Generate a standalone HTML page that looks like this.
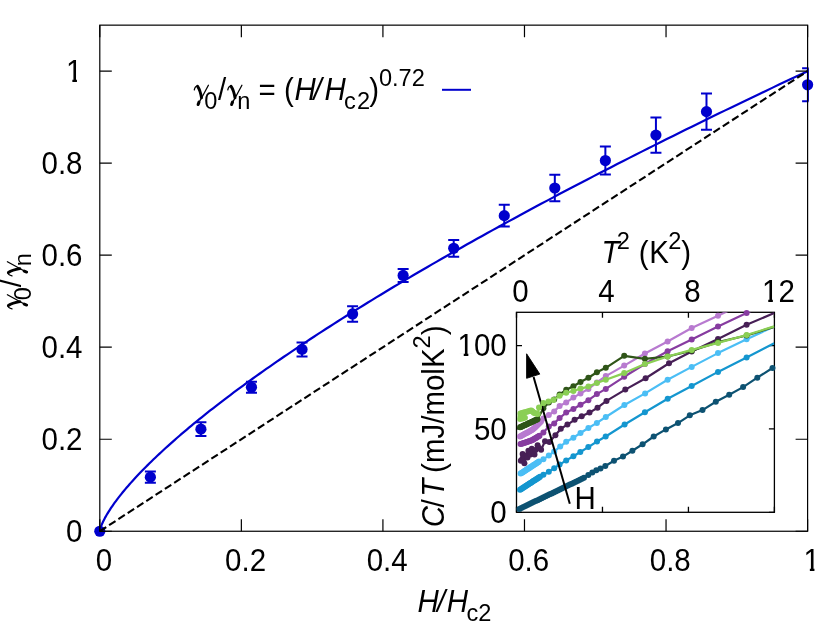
<!DOCTYPE html><html><head><meta charset="utf-8"><style>html,body{margin:0;padding:0;background:#fff}svg{display:block;will-change:transform}text{font-family:"Liberation Sans",sans-serif;fill:#000}.it{font-style:italic}.sy{font-family:"Liberation Serif",serif;font-style:italic}</style></head><body>
<svg width="830" height="625" viewBox="0 0 830 625">
<rect width="830" height="625" fill="#fff"/>
<text transform="translate(82.50,542.05) scale(1,1.045)" font-size="29.5" text-anchor="end">0</text>
<text transform="translate(104.00,571.00) scale(1,1.045)" font-size="29.5" text-anchor="middle">0</text>
<text transform="translate(82.50,450.03) scale(1,1.045)" font-size="29.5" text-anchor="end">0.2</text>
<text transform="translate(245.56,571.00) scale(1,1.045)" font-size="29.5" text-anchor="middle">0.2</text>
<text transform="translate(82.50,358.01) scale(1,1.045)" font-size="29.5" text-anchor="end">0.4</text>
<text transform="translate(387.12,571.00) scale(1,1.045)" font-size="29.5" text-anchor="middle">0.4</text>
<text transform="translate(82.50,266.00) scale(1,1.045)" font-size="29.5" text-anchor="end">0.6</text>
<text transform="translate(528.68,571.00) scale(1,1.045)" font-size="29.5" text-anchor="middle">0.6</text>
<text transform="translate(82.50,173.98) scale(1,1.045)" font-size="29.5" text-anchor="end">0.8</text>
<text transform="translate(670.24,571.00) scale(1,1.045)" font-size="29.5" text-anchor="middle">0.8</text>
<text transform="translate(82.50,81.96) scale(1,1.045)" font-size="29.5" text-anchor="end">1</text>
<rect x="66.70" y="78.66" width="5.65" height="4.2" fill="#fff"/><rect x="76.95" y="78.66" width="5.2" height="4.2" fill="#fff"/>
<text transform="translate(811.80,571.00) scale(1,1.045)" font-size="29.5" text-anchor="middle">1</text>
<rect x="804.20" y="567.70" width="5.65" height="4.2" fill="#fff"/><rect x="814.45" y="567.70" width="5.2" height="4.2" fill="#fff"/>
<path d="M99.80 531.25L99.82 531.03L99.87 530.64L99.96 530.16L100.08 529.60L100.24 528.98L100.44 528.30L100.67 527.57L100.93 526.79L101.23 525.96L101.57 525.09L101.94 524.19L102.35 523.24L102.79 522.27L103.27 521.25L103.78 520.21L104.33 519.14L104.91 518.03L105.53 516.90L106.19 515.73L106.88 514.55L107.60 513.33L108.36 512.09L109.16 510.82L109.99 509.53L110.86 508.21L111.76 506.88L112.70 505.51L113.67 504.13L114.68 502.73L115.73 501.30L116.80 499.85L117.92 498.38L119.07 496.89L120.26 495.38L121.48 493.85L122.73 492.31L124.02 490.74L125.35 489.15L126.71 487.55L128.11 485.93L129.55 484.29L131.01 482.63L132.52 480.95L134.06 479.26L135.63 477.55L137.24 475.82L138.89 474.08L140.57 472.32L142.29 470.54L144.04 468.75L145.82 466.94L147.65 465.12L149.51 463.28L151.40 461.43L153.33 459.56L155.29 457.67L157.29 455.77L159.33 453.86L161.40 451.93L163.50 449.99L165.64 448.03L167.82 446.06L170.03 444.07L172.28 442.07L174.56 440.06L176.88 438.03L179.23 435.99L181.62 433.94L184.05 431.87L186.51 429.79L189.00 427.69L191.53 425.59L194.10 423.47L196.70 421.34L199.33 419.19L202.01 417.03L204.71 414.86L207.46 412.68L210.23 410.48L213.05 408.28L215.90 406.06L218.78 403.83L221.70 401.58L224.66 399.33L227.65 397.06L230.67 394.78L233.73 392.49L236.83 390.19L239.96 387.87L243.13 385.55L246.33 383.21L249.57 380.86L252.84 378.50L256.15 376.13L259.50 373.75L262.88 371.36L266.29 368.95L269.74 366.54L273.23 364.11L276.75 361.68L280.31 359.23L283.90 356.77L287.53 354.30L291.19 351.82L294.89 349.33L298.62 346.83L302.39 344.32L306.19 341.80L310.03 339.27L313.91 336.73L317.82 334.18L321.77 331.62L325.75 329.04L329.76 326.46L333.82 323.87L337.90 321.27L342.03 318.66L346.19 316.04L350.38 313.40L354.61 310.76L358.87 308.11L363.17 305.45L367.51 302.78L371.88 300.10L376.28 297.41L380.73 294.72L385.20 292.01L389.71 289.29L394.26 286.56L398.85 283.83L403.46 281.08L408.12 278.33L412.81 275.56L417.53 272.79L422.29 270.01L427.09 267.22L431.92 264.42L436.78 261.61L441.69 258.79L446.62 255.96L451.59 253.13L456.60 250.28L461.65 247.43L466.72 244.57L471.84 241.70L476.99 238.82L482.17 235.93L487.39 233.03L492.65 230.12L497.94 227.21L503.26 224.29L508.63 221.35L514.02 218.41L519.45 215.47L524.92 212.51L530.43 209.54L535.96 206.57L541.54 203.59L547.15 200.60L552.79 197.60L558.47 194.59L564.19 191.58L569.94 188.55L575.72 185.52L581.55 182.48L587.40 179.43L593.30 176.38L599.22 173.31L605.19 170.24L611.19 167.16L617.22 164.07L623.29 160.98L629.39 157.87L635.53 154.76L641.71 151.64L647.92 148.51L654.17 145.38L660.45 142.24L666.77 139.09L673.12 135.93L679.51 132.76L685.93 129.59L692.39 126.40L698.88 123.21L705.41 120.02L711.98 116.81L718.58 113.60L725.21 110.38L731.88 107.15L738.59 103.92L745.33 100.68L752.11 97.43L758.92 94.17L765.77 90.90L772.65 87.63L779.57 84.35L786.53 81.06L793.51 77.77L800.54 74.47L807.60 71.16" stroke="#0000cd" stroke-width="2.2" fill="none"/>
<g stroke="#0000cd" stroke-width="2" fill="none">
<path d="M150.36 471.54V482.74M144.86 471.54h11M144.86 482.74h11"/>
<path d="M200.91 422.26V436.06M195.41 422.26h11M195.41 436.06h11"/>
<path d="M251.47 381.83V392.83M245.97 381.83h11M245.97 392.83h11"/>
<path d="M302.03 342.38V356.38M296.53 342.38h11M296.53 356.38h11"/>
<path d="M352.59 306.15V321.75M347.09 306.15h11M347.09 321.75h11"/>
<path d="M403.14 268.94V281.94M397.64 268.94h11M397.64 281.94h11"/>
<path d="M453.70 239.89V256.69M448.20 239.89h11M448.20 256.69h11"/>
<path d="M504.26 204.83V226.43M498.76 204.83h11M498.76 226.43h11"/>
<path d="M554.81 174.72V201.32M549.31 174.72h11M549.31 201.32h11"/>
<path d="M605.37 146.55V174.55M599.87 146.55h11M599.87 174.55h11"/>
<path d="M655.93 117.51V152.71M650.43 117.51h11M650.43 152.71h11"/>
<path d="M706.49 93.45V129.85M700.99 93.45h11M700.99 129.85h11"/>
<path d="M807.90 68.28V101.28M802.10 68.28H808.60M802.10 101.28H808.60"/>
</g>
<g fill="#0000cd">
<circle cx="99.80" cy="531.25" r="5.6"/>
<circle cx="150.36" cy="477.14" r="5.6"/>
<circle cx="200.91" cy="429.16" r="5.6"/>
<circle cx="251.47" cy="387.33" r="5.6"/>
<circle cx="302.03" cy="349.38" r="5.6"/>
<circle cx="352.59" cy="313.95" r="5.6"/>
<circle cx="403.14" cy="275.44" r="5.6"/>
<circle cx="453.70" cy="248.29" r="5.6"/>
<circle cx="504.26" cy="215.63" r="5.6"/>
<circle cx="554.81" cy="188.02" r="5.6"/>
<circle cx="605.37" cy="160.55" r="5.6"/>
<circle cx="655.93" cy="135.11" r="5.6"/>
<circle cx="706.49" cy="111.65" r="5.6"/>
<circle cx="807.60" cy="84.78" r="5.6"/>
</g>
<path d="M99.80 531.25L807.60 71.16" stroke="#000" stroke-width="2.1" stroke-dasharray="7.65 3.44" fill="none"/>
<g stroke="#000" stroke-width="1.2" fill="none">
<rect x="99.8" y="25.15" width="707.80" height="506.10"/>
<path d="M99.8 531.25h12M807.6 531.25h-12"/>
<path d="M99.80 531.25v-12M99.80 25.15v12"/>
<path d="M99.8 439.23h12M807.6 439.23h-12"/>
<path d="M241.36 531.25v-12M241.36 25.15v12"/>
<path d="M99.8 347.21h12M807.6 347.21h-12"/>
<path d="M382.92 531.25v-12M382.92 25.15v12"/>
<path d="M99.8 255.20h12M807.6 255.20h-12"/>
<path d="M524.48 531.25v-12M524.48 25.15v12"/>
<path d="M99.8 163.18h12M807.6 163.18h-12"/>
<path d="M666.04 531.25v-12M666.04 25.15v12"/>
<path d="M99.8 71.16h12M807.6 71.16h-12"/>
<path d="M807.60 531.25v-12M807.60 25.15v12"/>
</g>
<path d="M442 89.8H471" stroke="#0000cd" stroke-width="2"/>
<text transform="translate(0.00,100.10) scale(1,1.045)" font-size="29.5" text-anchor="start"><tspan x="204.30" y="8.9" font-size="23.6">0</tspan><tspan x="218.00" y="0" font-size="29.5">/</tspan><tspan x="237.30" y="8.9" font-size="23.6">n</tspan><tspan x="258.50" y="0" font-size="29.5">=</tspan><tspan x="284.10" y="0" font-size="29.5">(</tspan><tspan x="294.50" y="0" font-size="29.5" class="it">H</tspan><tspan x="313.40" y="0" font-size="29.5" class="it">/</tspan><tspan x="324.60" y="0" font-size="29.5" class="it">H</tspan><tspan x="343.90" y="8.9" font-size="23.6">c</tspan><tspan x="357.10" y="8.9" font-size="23.6">2</tspan><tspan x="369.30" y="0" font-size="29.5">)</tspan><tspan x="378.90" y="-13.5" font-size="23.6">0.72</tspan></text>
<g transform="translate(193.40,100.30)" fill="none" stroke="#000" stroke-linecap="round" stroke-linejoin="round"><path d="M0.9 -10.4Q1.6 -14.3 4.2 -14.5" stroke-width="1.3"/><path d="M4.2 -14Q6.8 -10.4 8.1 -2.6" stroke-width="2.9"/><path d="M15 -15L8.3 -2.6Q5.6 1.6 4.9 4.6" stroke-width="1.3"/><path d="M5.6 1.8L4.7 4.2" stroke-width="3"/></g>
<g transform="translate(226.90,100.30)" fill="none" stroke="#000" stroke-linecap="round" stroke-linejoin="round"><path d="M0.9 -10.4Q1.6 -14.3 4.2 -14.5" stroke-width="1.3"/><path d="M4.2 -14Q6.8 -10.4 8.1 -2.6" stroke-width="2.9"/><path d="M15 -15L8.3 -2.6Q5.6 1.6 4.9 4.6" stroke-width="1.3"/><path d="M5.6 1.8L4.7 4.2" stroke-width="3"/></g>
<text transform="translate(0.00,611.80) scale(1,1.045)" font-size="29.5" text-anchor="start"><tspan x="417.60" y="0" font-size="29.5" class="it">H</tspan><tspan x="436.90" y="0" font-size="29.5" class="it">/</tspan><tspan x="446.80" y="0" font-size="29.5" class="it">H</tspan><tspan x="466.60" y="8.9" font-size="23.6">c</tspan><tspan x="478.20" y="8.9" font-size="23.6">2</tspan></text>
<text transform="translate(21.40,309.75) rotate(-90) scale(1,1.045)" font-size="29.5" text-anchor="start"><tspan x="9.40" y="8.9" font-size="23.6">0</tspan><tspan x="22.60" y="0" font-size="29.5">/</tspan><tspan x="43.40" y="8.9" font-size="23.6">n</tspan></text>
<g transform="translate(22.40,309.75) rotate(-90)" fill="none" stroke="#000" stroke-linecap="round" stroke-linejoin="round"><path d="M0.9 -10.4Q1.6 -14.3 4.2 -14.5" stroke-width="1.3"/><path d="M4.2 -14Q6.8 -10.4 8.1 -2.6" stroke-width="2.9"/><path d="M15 -15L8.3 -2.6Q5.6 1.6 4.9 4.6" stroke-width="1.3"/><path d="M5.6 1.8L4.7 4.2" stroke-width="3"/></g>
<g transform="translate(22.40,276.75) rotate(-90)" fill="none" stroke="#000" stroke-linecap="round" stroke-linejoin="round"><path d="M0.9 -10.4Q1.6 -14.3 4.2 -14.5" stroke-width="1.3"/><path d="M4.2 -14Q6.8 -10.4 8.1 -2.6" stroke-width="2.9"/><path d="M15 -15L8.3 -2.6Q5.6 1.6 4.9 4.6" stroke-width="1.3"/><path d="M5.6 1.8L4.7 4.2" stroke-width="3"/></g>
<rect x="516.5" y="312.3" width="257.90" height="200.00" fill="#fff" stroke="none"/>
<clipPath id="c"><rect x="516.5" y="312.3" width="257.90" height="200.00"/></clipPath>
<clipPath id="c2"><rect x="513.5" y="309.3" width="263.90" height="206.00"/></clipPath>
<g stroke="#000" stroke-width="1.3" fill="none">
<rect x="516.5" y="312.3" width="257.90" height="200.00"/>
<path d="M516.5 512.30h5.5M774.4 512.30h-5.5"/>
<path d="M516.5 428.97h5.5M774.4 428.97h-5.5"/>
<path d="M516.5 345.63h5.5M774.4 345.63h-5.5"/>
<path d="M516.50 512.3v-5.5M516.50 312.3v5.5"/>
<path d="M602.47 512.3v-5.5M602.47 312.3v5.5"/>
<path d="M688.43 512.3v-5.5M688.43 312.3v5.5"/>
<path d="M774.40 512.3v-5.5M774.40 312.3v5.5"/>
</g>
<g clip-path="url(#c)"><path d="M519.4 508.9L521.4 507.9L523.4 507.0L525.5 506.0L527.5 505.0L529.5 504.0L531.5 503.1L533.5 502.1L535.6 501.1L537.6 500.2L539.6 499.2L541.6 498.2L543.6 497.2L545.7 496.3L547.7 495.3L549.7 494.3L551.7 493.4L553.7 492.4L555.7 491.4L557.8 490.5L559.8 489.5L561.8 488.5L563.8 487.5L565.8 486.6L567.9 485.6L569.9 484.6L571.9 483.7L573.9 482.7L575.9 481.7L578.0 480.7L580.0 479.8L582.0 478.8L584.0 477.8L588.3 475.0L592.3 472.6L596.3 470.3L600.5 468.4L605.3 466.0L614.0 460.8L623.0 456.6L632.4 450.7L642.6 444.3L653.7 436.5L665.9 429.4L678.0 423.1L689.8 415.3L702.5 410.1L715.8 401.8L729.2 394.7L743.1 387.1L757.3 377.7L772.5 368.0" stroke="#0d5272" stroke-width="2.2" fill="none" stroke-linejoin="round"/></g>
<g fill="#0d5272">
<circle cx="519.4" cy="508.9" r="3.0"/>
<circle cx="521.4" cy="507.9" r="3.0"/>
<circle cx="523.4" cy="507.0" r="3.0"/>
<circle cx="525.5" cy="506.0" r="3.0"/>
<circle cx="527.5" cy="505.0" r="3.0"/>
<circle cx="529.5" cy="504.0" r="3.0"/>
<circle cx="531.5" cy="503.1" r="3.0"/>
<circle cx="533.5" cy="502.1" r="3.0"/>
<circle cx="535.6" cy="501.1" r="3.0"/>
<circle cx="537.6" cy="500.2" r="3.0"/>
<circle cx="539.6" cy="499.2" r="3.0"/>
<circle cx="541.6" cy="498.2" r="3.0"/>
<circle cx="543.6" cy="497.2" r="3.0"/>
<circle cx="545.7" cy="496.3" r="3.0"/>
<circle cx="547.7" cy="495.3" r="3.0"/>
<circle cx="549.7" cy="494.3" r="3.0"/>
<circle cx="551.7" cy="493.4" r="3.0"/>
<circle cx="553.7" cy="492.4" r="3.0"/>
<circle cx="555.7" cy="491.4" r="3.0"/>
<circle cx="557.8" cy="490.5" r="3.0"/>
<circle cx="559.8" cy="489.5" r="3.0"/>
<circle cx="561.8" cy="488.5" r="3.0"/>
<circle cx="563.8" cy="487.5" r="3.0"/>
<circle cx="565.8" cy="486.6" r="3.0"/>
<circle cx="567.9" cy="485.6" r="3.0"/>
<circle cx="569.9" cy="484.6" r="3.0"/>
<circle cx="571.9" cy="483.7" r="3.0"/>
<circle cx="573.9" cy="482.7" r="3.0"/>
<circle cx="575.9" cy="481.7" r="3.0"/>
<circle cx="578.0" cy="480.7" r="3.0"/>
<circle cx="580.0" cy="479.8" r="3.0"/>
<circle cx="582.0" cy="478.8" r="3.0"/>
<circle cx="584.0" cy="477.8" r="3.0"/>
<circle cx="588.3" cy="475.0" r="3.0"/>
<circle cx="592.3" cy="472.6" r="3.0"/>
<circle cx="596.3" cy="470.3" r="3.0"/>
<circle cx="600.5" cy="468.4" r="3.0"/>
<circle cx="605.3" cy="466.0" r="3.0"/>
<circle cx="614.0" cy="460.8" r="3.0"/>
<circle cx="623.0" cy="456.6" r="3.0"/>
<circle cx="632.4" cy="450.7" r="3.0"/>
<circle cx="642.6" cy="444.3" r="3.0"/>
<circle cx="653.7" cy="436.5" r="3.0"/>
<circle cx="665.9" cy="429.4" r="3.0"/>
<circle cx="678.0" cy="423.1" r="3.0"/>
<circle cx="689.8" cy="415.3" r="3.0"/>
<circle cx="702.5" cy="410.1" r="3.0"/>
<circle cx="715.8" cy="401.8" r="3.0"/>
<circle cx="729.2" cy="394.7" r="3.0"/>
<circle cx="743.1" cy="387.1" r="3.0"/>
<circle cx="757.3" cy="377.7" r="3.0"/>
<circle cx="772.5" cy="368.0" r="3.0"/>
</g>
<g clip-path="url(#c)"><path d="M520.0 489.8L521.0 489.2L521.9 488.6L522.9 487.9L523.8 487.3L524.8 486.7L525.7 486.1L526.7 485.5L527.6 484.8L528.6 484.2L529.5 483.6L530.5 483.0L531.4 482.4L532.4 481.8L533.3 481.1L534.3 480.5L535.2 479.9L536.2 479.3L537.1 478.7L538.1 478.0L539.0 477.4L540.0 476.8L543.4 474.8L548.8 471.8L554.2 468.2L559.6 464.6L566.2 460.4L573.4 456.2L580.3 452.0L588.3 447.1L597.0 441.5L605.7 436.5L624.6 424.5L644.9 412.3L667.7 398.8L691.7 386.0L718.0 371.9L746.6 357.5L774.2 343.3" stroke="#1496cf" stroke-width="2.2" fill="none" stroke-linejoin="round"/></g>
<g fill="#1496cf">
<circle cx="520.0" cy="489.8" r="3.0"/>
<circle cx="521.0" cy="489.2" r="3.0"/>
<circle cx="521.9" cy="488.6" r="3.0"/>
<circle cx="522.9" cy="487.9" r="3.0"/>
<circle cx="523.8" cy="487.3" r="3.0"/>
<circle cx="524.8" cy="486.7" r="3.0"/>
<circle cx="525.7" cy="486.1" r="3.0"/>
<circle cx="526.7" cy="485.5" r="3.0"/>
<circle cx="527.6" cy="484.8" r="3.0"/>
<circle cx="528.6" cy="484.2" r="3.0"/>
<circle cx="529.5" cy="483.6" r="3.0"/>
<circle cx="530.5" cy="483.0" r="3.0"/>
<circle cx="531.4" cy="482.4" r="3.0"/>
<circle cx="532.4" cy="481.8" r="3.0"/>
<circle cx="533.3" cy="481.1" r="3.0"/>
<circle cx="534.3" cy="480.5" r="3.0"/>
<circle cx="535.2" cy="479.9" r="3.0"/>
<circle cx="536.2" cy="479.3" r="3.0"/>
<circle cx="537.1" cy="478.7" r="3.0"/>
<circle cx="538.1" cy="478.0" r="3.0"/>
<circle cx="539.0" cy="477.4" r="3.0"/>
<circle cx="540.0" cy="476.8" r="3.0"/>
<circle cx="543.4" cy="474.8" r="3.0"/>
<circle cx="548.8" cy="471.8" r="3.0"/>
<circle cx="554.2" cy="468.2" r="3.0"/>
<circle cx="559.6" cy="464.6" r="3.0"/>
<circle cx="566.2" cy="460.4" r="3.0"/>
<circle cx="573.4" cy="456.2" r="3.0"/>
<circle cx="580.3" cy="452.0" r="3.0"/>
<circle cx="588.3" cy="447.1" r="3.0"/>
<circle cx="597.0" cy="441.5" r="3.0"/>
<circle cx="605.7" cy="436.5" r="3.0"/>
<circle cx="624.6" cy="424.5" r="3.0"/>
<circle cx="644.9" cy="412.3" r="3.0"/>
<circle cx="667.7" cy="398.8" r="3.0"/>
<circle cx="691.7" cy="386.0" r="3.0"/>
<circle cx="718.0" cy="371.9" r="3.0"/>
<circle cx="746.6" cy="357.5" r="3.0"/>
</g>
<g clip-path="url(#c)"><path d="M520.6 473.6L521.5 473.0L522.4 472.5L523.2 471.9L524.1 471.3L525.0 470.7L525.9 470.2L526.7 469.6L527.6 469.0L528.5 468.5L529.4 467.9L530.2 467.3L531.1 466.7L532.0 466.2L532.9 465.6L533.7 465.0L534.6 464.5L535.5 463.9L536.4 463.3L537.2 462.7L538.1 462.2L539.0 461.6L543.4 459.2L548.8 455.6L554.2 451.4L560.2 446.6L566.2 441.8L573.4 437.7L580.5 433.0L588.4 428.0L596.9 422.9L605.8 417.0L624.4 405.0L645.1 393.4L667.6 379.8L691.7 366.9L718.0 353.1L746.6 339.3L774.2 326.4" stroke="#4bbef5" stroke-width="2.2" fill="none" stroke-linejoin="round"/></g>
<g fill="#4bbef5">
<circle cx="520.6" cy="473.6" r="3.0"/>
<circle cx="521.5" cy="473.0" r="3.0"/>
<circle cx="522.4" cy="472.5" r="3.0"/>
<circle cx="523.2" cy="471.9" r="3.0"/>
<circle cx="524.1" cy="471.3" r="3.0"/>
<circle cx="525.0" cy="470.7" r="3.0"/>
<circle cx="525.9" cy="470.2" r="3.0"/>
<circle cx="526.7" cy="469.6" r="3.0"/>
<circle cx="527.6" cy="469.0" r="3.0"/>
<circle cx="528.5" cy="468.5" r="3.0"/>
<circle cx="529.4" cy="467.9" r="3.0"/>
<circle cx="530.2" cy="467.3" r="3.0"/>
<circle cx="531.1" cy="466.7" r="3.0"/>
<circle cx="532.0" cy="466.2" r="3.0"/>
<circle cx="532.9" cy="465.6" r="3.0"/>
<circle cx="533.7" cy="465.0" r="3.0"/>
<circle cx="534.6" cy="464.5" r="3.0"/>
<circle cx="535.5" cy="463.9" r="3.0"/>
<circle cx="536.4" cy="463.3" r="3.0"/>
<circle cx="537.2" cy="462.7" r="3.0"/>
<circle cx="538.1" cy="462.2" r="3.0"/>
<circle cx="539.0" cy="461.6" r="3.0"/>
<circle cx="543.4" cy="459.2" r="3.0"/>
<circle cx="548.8" cy="455.6" r="3.0"/>
<circle cx="554.2" cy="451.4" r="3.0"/>
<circle cx="560.2" cy="446.6" r="3.0"/>
<circle cx="566.2" cy="441.8" r="3.0"/>
<circle cx="573.4" cy="437.7" r="3.0"/>
<circle cx="580.5" cy="433.0" r="3.0"/>
<circle cx="588.4" cy="428.0" r="3.0"/>
<circle cx="596.9" cy="422.9" r="3.0"/>
<circle cx="605.8" cy="417.0" r="3.0"/>
<circle cx="624.4" cy="405.0" r="3.0"/>
<circle cx="645.1" cy="393.4" r="3.0"/>
<circle cx="667.6" cy="379.8" r="3.0"/>
<circle cx="691.7" cy="366.9" r="3.0"/>
<circle cx="718.0" cy="353.1" r="3.0"/>
<circle cx="746.6" cy="339.3" r="3.0"/>
</g>
<g clip-path="url(#c)"><path d="M520.8 460.7L522.5 458.5L524.4 463.3L523.5 459.5L522.6 454.1L524.5 457.0L526.1 455.4L527.5 457.5L529.2 453.2L528.4 450.8L530.5 454.5L531.8 448.8L533.0 452.5L534.5 454.5L535.5 450.0L537.6 445.3L539.0 448.0L541.1 449.7L545.0 441.3L549.4 442.0L555.4 435.3L560.8 428.8L567.4 424.6L574.6 419.8L581.7 416.2L589.5 412.6L597.5 407.7L606.5 400.9L625.3 389.6L645.6 378.3L669.0 363.3L691.7 351.5L718.0 338.9L746.6 324.8L774.2 313.1" stroke="#471f56" stroke-width="2.2" fill="none" stroke-linejoin="round"/></g>
<g fill="#471f56">
<circle cx="520.8" cy="460.7" r="3.0"/>
<circle cx="522.5" cy="458.5" r="3.0"/>
<circle cx="524.4" cy="463.3" r="3.0"/>
<circle cx="523.5" cy="459.5" r="3.0"/>
<circle cx="522.6" cy="454.1" r="3.0"/>
<circle cx="524.5" cy="457.0" r="3.0"/>
<circle cx="526.1" cy="455.4" r="3.0"/>
<circle cx="527.5" cy="457.5" r="3.0"/>
<circle cx="529.2" cy="453.2" r="3.0"/>
<circle cx="528.4" cy="450.8" r="3.0"/>
<circle cx="530.5" cy="454.5" r="3.0"/>
<circle cx="531.8" cy="448.8" r="3.0"/>
<circle cx="533.0" cy="452.5" r="3.0"/>
<circle cx="534.5" cy="454.5" r="3.0"/>
<circle cx="535.5" cy="450.0" r="3.0"/>
<circle cx="537.6" cy="445.3" r="3.0"/>
<circle cx="539.0" cy="448.0" r="3.0"/>
<circle cx="541.1" cy="449.7" r="3.0"/>
<circle cx="545.0" cy="441.3" r="3.0"/>
<circle cx="549.4" cy="442.0" r="3.0"/>
<circle cx="555.4" cy="435.3" r="3.0"/>
<circle cx="560.8" cy="428.8" r="3.0"/>
<circle cx="567.4" cy="424.6" r="3.0"/>
<circle cx="574.6" cy="419.8" r="3.0"/>
<circle cx="581.7" cy="416.2" r="3.0"/>
<circle cx="589.5" cy="412.6" r="3.0"/>
<circle cx="597.5" cy="407.7" r="3.0"/>
<circle cx="606.5" cy="400.9" r="3.0"/>
<circle cx="625.3" cy="389.6" r="3.0"/>
<circle cx="645.6" cy="378.3" r="3.0"/>
<circle cx="669.0" cy="363.3" r="3.0"/>
<circle cx="691.7" cy="351.5" r="3.0"/>
<circle cx="718.0" cy="338.9" r="3.0"/>
<circle cx="746.6" cy="324.8" r="3.0"/>
</g>
<g clip-path="url(#c)"><path d="M520.5 444.1L521.5 443.8L522.6 443.4L523.6 443.1L524.7 442.7L525.7 442.4L526.8 442.0L527.8 441.7L528.9 441.3L529.9 441.0L531.0 440.6L532.0 440.3L533.0 439.7L533.9 439.1L534.9 438.6L535.8 438.0L536.7 437.4L537.6 436.8L538.6 436.3L539.5 435.7L543.4 432.4L548.8 426.4L554.2 423.4L559.6 418.0L566.2 412.6L573.4 409.0L580.5 404.8L588.4 400.2L596.9 394.1L605.8 388.9L624.2 376.8L644.9 364.0L667.6 351.3L691.7 339.4L718.0 326.4L746.6 313.1L774.2 300.0" stroke="#873ca0" stroke-width="2.2" fill="none" stroke-linejoin="round"/></g>
<g fill="#873ca0">
<circle cx="520.5" cy="444.1" r="3.0"/>
<circle cx="521.5" cy="443.8" r="3.0"/>
<circle cx="522.6" cy="443.4" r="3.0"/>
<circle cx="523.6" cy="443.1" r="3.0"/>
<circle cx="524.7" cy="442.7" r="3.0"/>
<circle cx="525.7" cy="442.4" r="3.0"/>
<circle cx="526.8" cy="442.0" r="3.0"/>
<circle cx="527.8" cy="441.7" r="3.0"/>
<circle cx="528.9" cy="441.3" r="3.0"/>
<circle cx="529.9" cy="441.0" r="3.0"/>
<circle cx="531.0" cy="440.6" r="3.0"/>
<circle cx="532.0" cy="440.3" r="3.0"/>
<circle cx="533.0" cy="439.7" r="3.0"/>
<circle cx="533.9" cy="439.1" r="3.0"/>
<circle cx="534.9" cy="438.6" r="3.0"/>
<circle cx="535.8" cy="438.0" r="3.0"/>
<circle cx="536.7" cy="437.4" r="3.0"/>
<circle cx="537.6" cy="436.8" r="3.0"/>
<circle cx="538.6" cy="436.3" r="3.0"/>
<circle cx="539.5" cy="435.7" r="3.0"/>
<circle cx="543.4" cy="432.4" r="3.0"/>
<circle cx="548.8" cy="426.4" r="3.0"/>
<circle cx="554.2" cy="423.4" r="3.0"/>
<circle cx="559.6" cy="418.0" r="3.0"/>
<circle cx="566.2" cy="412.6" r="3.0"/>
<circle cx="573.4" cy="409.0" r="3.0"/>
<circle cx="580.5" cy="404.8" r="3.0"/>
<circle cx="588.4" cy="400.2" r="3.0"/>
<circle cx="596.9" cy="394.1" r="3.0"/>
<circle cx="605.8" cy="388.9" r="3.0"/>
<circle cx="624.2" cy="376.8" r="3.0"/>
<circle cx="644.9" cy="364.0" r="3.0"/>
<circle cx="667.6" cy="351.3" r="3.0"/>
<circle cx="691.7" cy="339.4" r="3.0"/>
<circle cx="718.0" cy="326.4" r="3.0"/>
<circle cx="746.6" cy="313.1" r="3.0"/>
</g>
<g clip-path="url(#c)"><path d="M520.0 436.5L521.1 435.9L522.2 435.3L523.3 434.7L524.4 434.1L525.5 433.5L526.5 433.0L527.6 432.4L528.7 431.8L529.8 431.2L530.9 430.6L532.0 430.0L533.0 429.3L534.0 428.3L535.0 427.4L536.0 426.4L537.0 425.5L538.0 424.5L539.0 423.5L540.0 422.6L541.0 421.6L543.4 418.6L548.8 415.0L554.2 411.4L559.6 406.0L566.2 402.4L573.4 397.6L580.5 393.4L588.4 389.0L596.9 382.5L605.8 376.1L624.2 365.6L644.9 353.5L667.6 341.5L691.7 328.0L718.0 315.7L746.6 302.0L774.2 290.0" stroke="#b87ad0" stroke-width="2.2" fill="none" stroke-linejoin="round"/></g>
<g fill="#b87ad0">
<circle cx="520.0" cy="436.5" r="3.0"/>
<circle cx="521.1" cy="435.9" r="3.0"/>
<circle cx="522.2" cy="435.3" r="3.0"/>
<circle cx="523.3" cy="434.7" r="3.0"/>
<circle cx="524.4" cy="434.1" r="3.0"/>
<circle cx="525.5" cy="433.5" r="3.0"/>
<circle cx="526.5" cy="433.0" r="3.0"/>
<circle cx="527.6" cy="432.4" r="3.0"/>
<circle cx="528.7" cy="431.8" r="3.0"/>
<circle cx="529.8" cy="431.2" r="3.0"/>
<circle cx="530.9" cy="430.6" r="3.0"/>
<circle cx="532.0" cy="430.0" r="3.0"/>
<circle cx="533.0" cy="429.3" r="3.0"/>
<circle cx="534.0" cy="428.3" r="3.0"/>
<circle cx="535.0" cy="427.4" r="3.0"/>
<circle cx="536.0" cy="426.4" r="3.0"/>
<circle cx="537.0" cy="425.5" r="3.0"/>
<circle cx="538.0" cy="424.5" r="3.0"/>
<circle cx="539.0" cy="423.5" r="3.0"/>
<circle cx="540.0" cy="422.6" r="3.0"/>
<circle cx="541.0" cy="421.6" r="3.0"/>
<circle cx="543.4" cy="418.6" r="3.0"/>
<circle cx="548.8" cy="415.0" r="3.0"/>
<circle cx="554.2" cy="411.4" r="3.0"/>
<circle cx="559.6" cy="406.0" r="3.0"/>
<circle cx="566.2" cy="402.4" r="3.0"/>
<circle cx="573.4" cy="397.6" r="3.0"/>
<circle cx="580.5" cy="393.4" r="3.0"/>
<circle cx="588.4" cy="389.0" r="3.0"/>
<circle cx="596.9" cy="382.5" r="3.0"/>
<circle cx="605.8" cy="376.1" r="3.0"/>
<circle cx="624.2" cy="365.6" r="3.0"/>
<circle cx="644.9" cy="353.5" r="3.0"/>
<circle cx="667.6" cy="341.5" r="3.0"/>
<circle cx="691.7" cy="328.0" r="3.0"/>
<circle cx="718.0" cy="315.7" r="3.0"/>
</g>
<g clip-path="url(#c)"><path d="M520.0 427.3L520.9 426.9L521.8 426.5L522.8 426.0L523.7 425.6L524.6 425.2L525.5 424.8L526.4 424.4L527.4 423.9L528.3 423.5L529.2 423.1L530.1 422.7L531.1 422.2L532.0 421.8L532.9 421.4L533.8 421.0L534.7 420.6L535.7 420.1L536.6 419.7L537.5 419.3L543.4 408.2L548.8 402.5L554.2 399.5L559.6 394.5L566.2 389.8L573.4 386.2L580.5 382.0L588.4 377.7L596.9 372.3L605.8 367.8L624.2 355.8L644.9 358.8L667.6 356.5L691.7 350.7L718.0 342.1L746.6 335.5L774.2 326.9" stroke="#2f5518" stroke-width="2.2" fill="none" stroke-linejoin="round"/></g>
<g fill="#2f5518">
<circle cx="520.0" cy="427.3" r="3.0"/>
<circle cx="520.9" cy="426.9" r="3.0"/>
<circle cx="521.8" cy="426.5" r="3.0"/>
<circle cx="522.8" cy="426.0" r="3.0"/>
<circle cx="523.7" cy="425.6" r="3.0"/>
<circle cx="524.6" cy="425.2" r="3.0"/>
<circle cx="525.5" cy="424.8" r="3.0"/>
<circle cx="526.4" cy="424.4" r="3.0"/>
<circle cx="527.4" cy="423.9" r="3.0"/>
<circle cx="528.3" cy="423.5" r="3.0"/>
<circle cx="529.2" cy="423.1" r="3.0"/>
<circle cx="530.1" cy="422.7" r="3.0"/>
<circle cx="531.1" cy="422.2" r="3.0"/>
<circle cx="532.0" cy="421.8" r="3.0"/>
<circle cx="532.9" cy="421.4" r="3.0"/>
<circle cx="533.8" cy="421.0" r="3.0"/>
<circle cx="534.7" cy="420.6" r="3.0"/>
<circle cx="535.7" cy="420.1" r="3.0"/>
<circle cx="536.6" cy="419.7" r="3.0"/>
<circle cx="537.5" cy="419.3" r="3.0"/>
<circle cx="543.4" cy="408.2" r="3.0"/>
<circle cx="548.8" cy="402.5" r="3.0"/>
<circle cx="554.2" cy="399.5" r="3.0"/>
<circle cx="559.6" cy="394.5" r="3.0"/>
<circle cx="566.2" cy="389.8" r="3.0"/>
<circle cx="573.4" cy="386.2" r="3.0"/>
<circle cx="580.5" cy="382.0" r="3.0"/>
<circle cx="588.4" cy="377.7" r="3.0"/>
<circle cx="596.9" cy="372.3" r="3.0"/>
<circle cx="605.8" cy="367.8" r="3.0"/>
<circle cx="624.2" cy="355.8" r="3.0"/>
<circle cx="644.9" cy="358.8" r="3.0"/>
<circle cx="667.6" cy="356.5" r="3.0"/>
<circle cx="691.7" cy="350.7" r="3.0"/>
<circle cx="718.0" cy="342.1" r="3.0"/>
<circle cx="746.6" cy="335.5" r="3.0"/>
</g>
<path d="M569.8 503.8L533.6 377" stroke="#000" stroke-width="2" fill="none"/>
<path d="M526.6 353.8L526.6 378.3L539.8 374.1Z" fill="#000" stroke="#000" stroke-width="0.9" stroke-linejoin="round"/>
<g clip-path="url(#c)"><path d="M520.1 419.1L522.5 418.6L524.9 417.8L520.6 416.3L520.4 413.4L522.0 413.0L523.6 412.6L525.2 412.2L526.8 411.8L528.4 411.3L530.0 410.8L531.3 410.5L532.6 411.6L533.8 412.7L535.1 413.2L536.4 413.6L537.7 414.0L539.0 407.6L543.4 403.1L548.4 401.5L553.4 399.9L559.6 395.8L566.2 392.8L573.4 391.0L580.5 388.6L588.4 386.6L596.9 382.9L605.8 379.8L624.2 373.1L644.9 364.1L667.6 356.5L691.7 349.9L718.0 342.9L746.6 335.0L774.2 326.4" stroke="#8bcf55" stroke-width="2.2" fill="none" stroke-linejoin="round"/></g>
<g fill="#8bcf55">
<circle cx="520.1" cy="419.1" r="3.0"/>
<circle cx="522.5" cy="418.6" r="3.0"/>
<circle cx="524.9" cy="417.8" r="3.0"/>
<circle cx="520.6" cy="416.3" r="3.0"/>
<circle cx="520.4" cy="413.4" r="3.0"/>
<circle cx="522.0" cy="413.0" r="3.0"/>
<circle cx="523.6" cy="412.6" r="3.0"/>
<circle cx="525.2" cy="412.2" r="3.0"/>
<circle cx="526.8" cy="411.8" r="3.0"/>
<circle cx="528.4" cy="411.3" r="3.0"/>
<circle cx="530.0" cy="410.8" r="3.0"/>
<circle cx="531.3" cy="410.5" r="3.0"/>
<circle cx="532.6" cy="411.6" r="3.0"/>
<circle cx="533.8" cy="412.7" r="3.0"/>
<circle cx="535.1" cy="413.2" r="3.0"/>
<circle cx="536.4" cy="413.6" r="3.0"/>
<circle cx="537.7" cy="414.0" r="3.0"/>
<circle cx="539.0" cy="407.6" r="3.0"/>
<circle cx="543.4" cy="403.1" r="3.0"/>
<circle cx="548.4" cy="401.5" r="3.0"/>
<circle cx="553.4" cy="399.9" r="3.0"/>
<circle cx="559.6" cy="395.8" r="3.0"/>
<circle cx="566.2" cy="392.8" r="3.0"/>
<circle cx="573.4" cy="391.0" r="3.0"/>
<circle cx="580.5" cy="388.6" r="3.0"/>
<circle cx="588.4" cy="386.6" r="3.0"/>
<circle cx="596.9" cy="382.9" r="3.0"/>
<circle cx="605.8" cy="379.8" r="3.0"/>
<circle cx="624.2" cy="373.1" r="3.0"/>
<circle cx="644.9" cy="364.1" r="3.0"/>
<circle cx="667.6" cy="356.5" r="3.0"/>
<circle cx="691.7" cy="349.9" r="3.0"/>
<circle cx="718.0" cy="342.9" r="3.0"/>
<circle cx="746.6" cy="335.0" r="3.0"/>
</g>
<text transform="translate(574.60,509.20) scale(1,1.045)" font-size="29.5" text-anchor="start">H</text>
<text transform="translate(506.70,523.10) scale(1,1.045)" font-size="29.5" text-anchor="end">0</text>
<text transform="translate(506.70,439.77) scale(1,1.045)" font-size="29.5" text-anchor="end">50</text>
<text transform="translate(506.70,356.43) scale(1,1.045)" font-size="29.5" text-anchor="end">100</text>
<rect x="458.09" y="353.13" width="5.65" height="4.2" fill="#fff"/><rect x="468.34" y="353.13" width="5.2" height="4.2" fill="#fff"/>
<text transform="translate(520.50,301.50) scale(1,1.045)" font-size="29.5" text-anchor="middle">0</text>
<text transform="translate(606.47,301.50) scale(1,1.045)" font-size="29.5" text-anchor="middle">4</text>
<text transform="translate(692.43,301.50) scale(1,1.045)" font-size="29.5" text-anchor="middle">8</text>
<text transform="translate(778.40,301.50) scale(1,1.045)" font-size="29.5" text-anchor="middle">12</text>
<rect x="762.60" y="298.20" width="5.65" height="4.2" fill="#fff"/><rect x="772.85" y="298.20" width="5.2" height="4.2" fill="#fff"/>
<text transform="translate(601.60,263.00) scale(1,1.045)" font-size="29.5" text-anchor="start"><tspan class="it">T</tspan><tspan font-size="23.6" dy="-13.5" dx="-2.9">2</tspan><tspan dy="13.5" dx="0.7"> (</tspan><tspan dx="0.7">K</tspan><tspan font-size="23.6" dy="-13.5" dx="-0.7">2</tspan><tspan dy="13.5">)</tspan></text>
<text transform="translate(444.10,528.60) rotate(-90) scale(1,1.045)" font-size="29.5" text-anchor="start"><tspan class="it" x="1.4">C</tspan><tspan x="21.1">/</tspan><tspan class="it" x="31.9">T</tspan><tspan x="47.5"> (mJ/molK</tspan><tspan font-size="23.6" dy="-13.5">2</tspan><tspan dy="13.5">)</tspan></text>
</svg></body></html>
